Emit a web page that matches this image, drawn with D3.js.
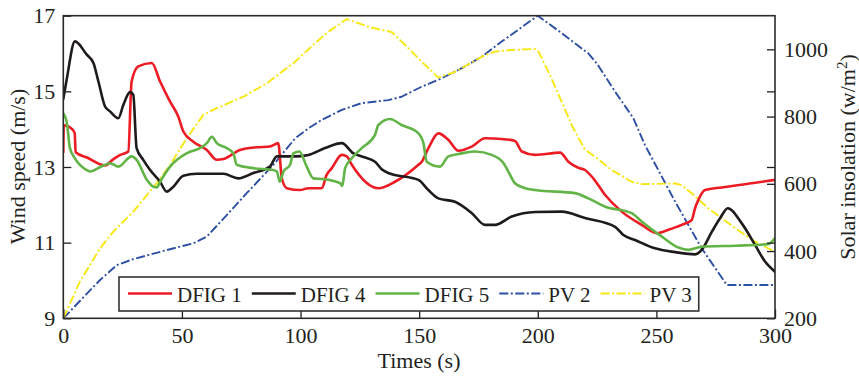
<!DOCTYPE html>
<html><head><meta charset="utf-8">
<script src="https://cdn.jsdelivr.net/npm/d3@7/dist/d3.min.js"></script>
<style>
html,body{margin:0;padding:0;background:#fff;}
svg{display:block;}
text{font-family:"Liberation Serif","Times New Roman",serif;fill:#231f20;}
</style></head>
<body>
<svg id="chart" width="859" height="376"></svg>
<script>
// ---------- data ----------
const xTicks = [0, 50, 100, 150, 200, 250, 300];
const windTicks = [9, 11, 13, 15, 17];
const solarTicks = [200, 400, 600, 800, 1000];
const seriesNames = ["DFIG 1", "DFIG 4", "DFIG 5", "PV 2", "PV 3"];

const dfig1T = [0,0.2,2.8,4.8,5.2,10,17.6,21,24,27.4,28.8,31.6,37.3,40.8,45,48.5,50.6,54.8,60.5,64.7,67.5,74.5,81.5,87.1,90.6,92.1,94.2,99.8,103.3,108.9,111,113.2,117.4,119.5,121.6,132.8,139.8,149.7,151.1,153.9,158.1,162.3,166.5,172.2,177.8,184.8,190.4,193.3,198.9,209.4,212.9,217.1,219.9,223.4,228.4,235.4,243.8,250.2,255.1,260.7,264.9,266.3,267.7,270.5,277.6,290.2,300];
const dfig1V = [13.4,14.1,14.05,13.9,13.39,13.25,13.04,13.2,13.32,13.41,15.26,15.66,15.75,15.26,14.73,14.33,13.94,13.67,13.45,13.19,13.21,13.45,13.52,13.54,13.63,12.71,12.44,12.39,12.44,12.44,12.79,12.97,13.32,13.28,13.06,12.44,12.61,13.06,13.14,13.5,13.89,13.72,13.43,13.54,13.76,13.74,13.69,13.41,13.32,13.38,13.14,12.98,12.92,12.7,12.26,11.82,11.47,11.25,11.34,11.47,11.6,11.91,12.13,12.39,12.46,12.57,12.66];

const dfig4T = [0,1.4,4.9,9.9,12.7,14.8,17.6,19.7,23.2,25.3,28.1,29.5,30.9,33.7,36.6,40.8,43.6,46.4,50.6,56.2,67.5,73.8,80.1,87.1,90,97.7,103.3,110.3,117.4,122.3,125.8,131.4,134.2,137,149.7,153.9,158.1,165.1,172.2,177.8,182,189,198.9,210.1,219.9,232.6,236.1,241,249.4,257.9,266.3,269.1,273.4,276.9,280.1,286,291.6,295.8,300];
const dfig4V = [14.8,15.3,16.32,15.97,15.75,15.26,14.6,14.47,14.29,14.64,14.98,14.91,13.5,13.19,12.92,12.61,12.35,12.48,12.77,12.82,12.82,12.7,12.84,13.01,13.28,13.28,13.32,13.5,13.63,13.36,13.28,13.14,12.94,12.84,12.66,12.39,12.17,12.08,11.78,11.47,11.47,11.69,11.81,11.82,11.65,11.42,11.2,11.07,10.85,10.75,10.69,10.81,11.29,11.65,11.91,11.51,10.94,10.5,10.23];

const dfig5T = [0,1.4,2.8,4.9,9.9,11.3,15,19.7,23.2,28.8,30.9,35.2,37.9,39.4,40.8,45,52,57.6,60.5,62.6,64.7,68.9,71.7,73.1,80.1,88.5,90,91.3,92.8,95.6,97,99.5,102.6,105.4,109.6,116.7,117.6,118.8,121.6,125.8,131.4,132.8,137.7,142.6,149.7,151.8,153.2,158.8,162.3,168,173.6,180.6,185.6,187.6,190.4,194.6,198.9,215.7,221.3,228.4,239.6,243.8,252.3,259.3,263.5,269.1,283.2,297.2,300];
const dfig5V = [14.42,14.2,13.5,13.23,12.92,12.88,12.98,13.1,13.01,13.28,13.19,12.66,12.48,12.46,12.61,13.01,13.36,13.5,13.63,13.8,13.63,13.5,13.36,13.06,12.97,12.92,12.88,12.61,12.88,13.06,13.36,13.41,13.01,12.7,12.68,12.57,12.5,12.97,13.23,13.5,13.85,14.11,14.27,14.11,13.89,13.63,13.14,13.01,13.28,13.36,13.41,13.32,13.1,12.88,12.57,12.44,12.39,12.31,12.17,11.95,11.78,11.56,11.16,10.87,10.81,10.89,10.92,10.96,11.12];

const pv2T = [0,15.5,22.5,29.5,43.6,54.8,60.5,68.9,77.3,88.5,97.7,103.3,108.9,117.4,125.8,137,142.6,151.1,159.5,168,176.4,184.8,200,210.1,221.3,224.9,232.6,240.3,245.2,250.8,257.9,269.1,279.7,300];
const pv2V = [200,314,358,376,403,423,443,507,572,656,735,765,790,820,840,849,859,889,914,944,978,1023,1100,1048,988,958,874,795,715,641,547,408,299,299];

const pv3T = [0,7,15.5,21.1,29.5,39.4,45,52,59,64.7,75.9,85.8,97.7,106.1,111.7,119.5,128.6,138.5,144.1,151.1,158.1,165.1,177.8,182,189,198.9,200.3,204.5,210.1,214.3,219.9,224.1,231.2,239.6,243.8,257.9,260.7,264.9,271.9,283.2,291.6,300];
const pv3V = [200,309,408,458,517,602,656,735,805,825,859,899,963,1018,1052,1090,1067,1051,1013,963,916,933,983,993,998,1001,993,933,844,775,701,681,641,606,599,601,596,572,527,468,428,398];

// ---------- layout ----------
const svg = d3.select("#chart");
const L = 63.3, R = 775, T = 15.7, B = 318.3;
const x = d3.scaleLinear().domain([0, 300]).range([L, R]);
const yW = d3.scaleLinear().domain([9, 17]).range([B, T]);
const yS = d3.scaleLinear().domain([200, 1100]).range([B, T]);

const colors = {"DFIG 1":"#ec1c24","DFIG 4":"#1f1a1b","DFIG 5":"#62b446","PV 2":"#2d4fa3","PV 3":"#f8e710"};
const dash = "9,2.5,2,2.5";

const series = [
  {name:"DFIG 1", t:dfig1T, v:dfig1V, axis:"w"},
  {name:"DFIG 4", t:dfig4T, v:dfig4V, axis:"w"},
  {name:"DFIG 5", t:dfig5T, v:dfig5V, axis:"w"},
  {name:"PV 2", t:pv2T, v:pv2V, axis:"s"},
  {name:"PV 3", t:pv3T, v:pv3V, axis:"s"}
];

const clip = svg.append("defs").append("clipPath").attr("id","plotclip")
  .append("rect").attr("x",L).attr("y",T-2).attr("width",R-L).attr("height",B-T+4);

const lines = svg.append("g").attr("clip-path","url(#plotclip)");
// draw PV first then DFIG in order of appearance (DFIG on top)
const drawOrder = [3,4,0,1,2];
drawOrder.forEach(i => {
  const s = series[i];
  const yy = s.axis === "w" ? yW : yS;
  const pts = s.t.map((t,k)=>[t, s.v[k]]);
  const gen = d3.line().x(d=>x(d[0])).y(d=>yy(d[1]))
    .curve(s.axis === "w" ? d3.curveMonotoneX : d3.curveLinear);
  const p = lines.append("path").datum(pts).attr("d", gen)
    .attr("fill","none").attr("stroke", colors[s.name])
    .attr("stroke-linejoin","round").attr("stroke-linecap","round")
    .attr("stroke-width", s.axis === "w" ? 2.6 : 1.9);
  if (s.axis === "s") p.attr("stroke-dasharray", dash).attr("stroke-linecap","butt");
});

// ---------- axes ----------
const fs = 22;
const gx = svg.append("g").attr("transform",`translate(0,${B})`)
  .call(d3.axisBottom(x).tickValues(xTicks).tickFormat(d3.format("d")).tickSizeInner(-9).tickSizeOuter(0).tickPadding(9));
const gl = svg.append("g").attr("transform",`translate(${L},0)`)
  .call(d3.axisLeft(yW).tickValues(windTicks).tickFormat(d3.format("d")).tickSizeInner(-8).tickSizeOuter(0).tickPadding(8));
const gr = svg.append("g").attr("transform",`translate(${R},0)`)
  .call(d3.axisRight(yS).tickValues(solarTicks).tickFormat(d3.format("d")).tickSizeInner(-8).tickSizeOuter(0).tickPadding(9));
// mirrored wind ticks on the right edge
const gm = svg.append("g").attr("transform",`translate(${R},0)`)
  .call(d3.axisRight(yW).tickValues(windTicks.slice(1,-1)).tickFormat("").tickSizeInner(-8).tickSizeOuter(0));
[gx,gl,gr,gm].forEach(g=>{
  g.select(".domain").remove();
  g.selectAll(".tick line").attr("stroke","#231f20").attr("stroke-width",1.3);
  g.selectAll(".tick text").attr("font-size",fs).attr("font-family","Liberation Serif").attr("fill","#231f20");
});

// frame
svg.append("rect").attr("x",L).attr("y",T).attr("width",R-L).attr("height",B-T)
  .attr("fill","none").attr("stroke","#2b2b2b").attr("stroke-width",1.6);

// titles
svg.append("text").attr("transform",`translate(25,166.5) rotate(-90)`)
  .attr("text-anchor","middle").attr("font-size",fs).text("Wind speed (m/s)");
const rt = svg.append("text").attr("transform",`translate(855,157) rotate(-90)`)
  .attr("text-anchor","middle").attr("font-size",fs);
rt.append("tspan").text("Solar insolation (w/m");
rt.append("tspan").attr("dy",-8).attr("font-size",15).text("2");
rt.append("tspan").attr("dy",8).text(")");
svg.append("text").attr("x",419).attr("y",368).attr("text-anchor","middle")
  .attr("font-size",fs).text("Times (s)");

// ---------- legend ----------
const lg = svg.append("g");
const box = lg.append("rect").attr("x",119).attr("y",277).attr("height",34)
  .attr("fill","#fff").attr("stroke","#333").attr("stroke-width",1.6);
let cx = 128;
const ly = 293.5;
seriesNames.forEach(n=>{
  const isPV = n.startsWith("PV");
  const ln = lg.append("line").attr("x1",cx).attr("x2",cx+44).attr("y1",ly).attr("y2",ly)
    .attr("stroke",colors[n]).attr("stroke-width", isPV?1.9:2.6);
  if (isPV) ln.attr("stroke-dasharray", dash);
  const tx = lg.append("text").attr("x",cx+49).attr("y",301.5).attr("font-size",21).text(n);
  const w = tx.node().getComputedTextLength();
  cx = cx + 49 + w + 10;
});
box.attr("width", cx - 10 + 7 - 119);
</script>
</body></html>
